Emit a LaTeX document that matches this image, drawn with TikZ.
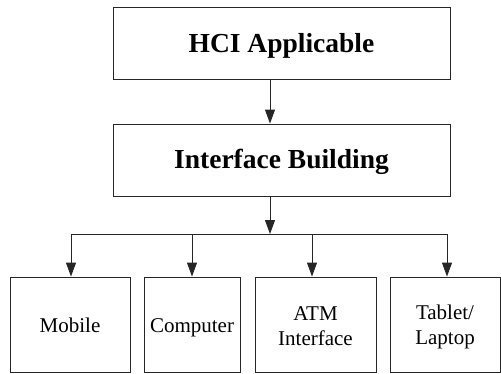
\documentclass[tikz,border=0pt]{standalone}
\usepackage{fontspec}
\setmainfont{Liberation Serif}
\usetikzlibrary{arrows.meta,calc}
\begin{document}
\begin{tikzpicture}[x=1pt,y=-1pt,
  box/.style={draw=black!85,line width=0.9pt,inner sep=0pt,align=center},
  topbox/.style={box,minimum width=337pt,minimum height=72pt},
  bigtext/.style={font=\fontsize{27.5}{30}\selectfont\bfseries},
  leaf/.style={box,minimum height=95pt},
  leaftext/.style={font=\fontsize{21}{25}\selectfont,align=center},
  arr/.style={draw=black!85,line width=0.9pt,-{Triangle[length=14pt,width=10pt]}},
  ln/.style={draw=black!85,line width=0.9pt}]
\useasboundingbox (0,0) rectangle (501,373);
\node[topbox] (hci) at (281.5,43) {};
\node[topbox] (ib) at (281.5,160) {};
\node[bigtext] (hcit) at (281.5,46) {HCI Applicable};
\node[bigtext] (ibt) at (281.5,162) {Interface Building};
\node[leaf,minimum width=120pt] (mob) at (70,324.5) {};
\node[leaf,minimum width=96pt] (comp) at (192,324.5) {};
\node[leaf,minimum width=121pt] (atm) at (315.5,324.5) {};
\node[leaf,minimum width=110pt] (tab) at (445,324.5) {};
\node[leaftext,anchor=base] (mobt) at (70,332) {Mobile};
\node[leaftext,anchor=base] (compt) at (192,332) {Computer};
\node[leaftext] (atmt) at (315.5,326.5) {ATM\\Interface};
\node[leaftext] (tabt) at (445,326.5) {Tablet/\\Laptop};
\coordinate (j) at (270,234);
\coordinate (jl) at (71,234);
\coordinate (jr) at (447,234);
\draw[arr] (hci.south -| j) -- (ib.north -| j);
\draw[arr] (ib.south -| j) -- (j);
\draw[ln] (jl) -- (jr);
\draw[arr] (jl) -- (mob.north -| jl);
\draw[arr] (comp.north |- j) -- (comp.north);
\draw[arr] ($(atm.north |- j)+(-3.5,0)$) -- ($(atm.north)+(-3.5,0)$);
\draw[arr] (jr) -- (tab.north -| jr);
\end{tikzpicture}
\end{document}
